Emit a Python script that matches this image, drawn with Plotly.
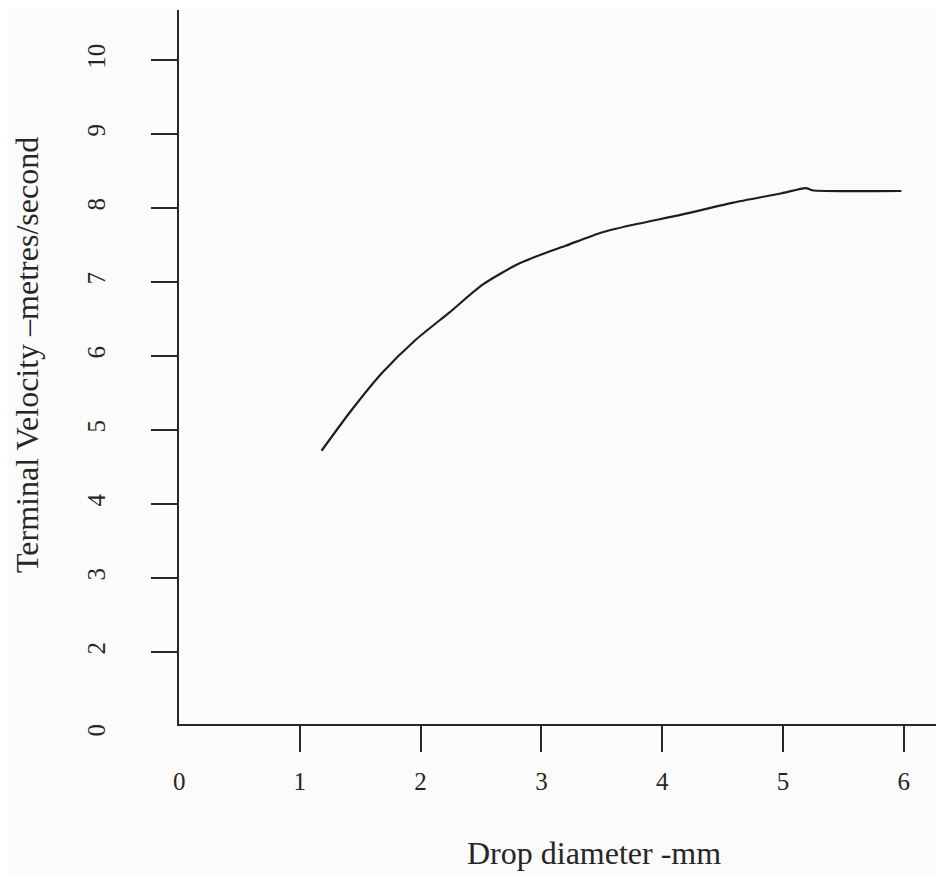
import plotly.graph_objects as go

# Data (drop diameter in mm, terminal velocity in the chart's labelled units)
diameter_mm = [1.18, 1.41, 1.68, 1.96, 2.24, 2.51, 2.79, 3.06, 3.20, 3.48, 3.75, 4.16, 4.58, 4.99, 5.19, 5.24, 5.98]
velocity = [4.72, 5.23, 5.77, 6.22, 6.59, 6.96, 7.23, 7.41, 7.49, 7.66, 7.77, 7.91, 8.07, 8.20, 8.27, 8.24, 8.23]

x_ticks = [1, 2, 3, 4, 5, 6]
y_ticks = [2, 3, 4, 5, 6, 7, 8, 9, 10]
y_ticktext = ["2", "3", "4", "5", "6", "7", "8", "9", "10"]

x_title = "Drop diameter -mm"
y_title = "Terminal Velocity \u2013metres/second"

FONT = "Liberation Serif, Times New Roman, serif"
INK = "#262626"
BG = "#fbfbfb"

fig = go.Figure()
fig.add_trace(go.Scatter(
    x=diameter_mm, y=velocity, mode="lines",
    line=dict(color="#1e1e1e", width=2.2, shape="spline", smoothing=0.6),
    hoverinfo="skip", showlegend=False,
))

fig.update_layout(
    width=936, height=868,
    margin=dict(l=171, r=0, t=2, b=152),
    paper_bgcolor=BG, plot_bgcolor=BG,
    font=dict(family=FONT, size=25, color=INK),
    showlegend=False,
    xaxis=dict(
        range=[0, 6.333], showgrid=False, zeroline=False,
        showline=True, linecolor=INK, linewidth=2,
        ticks="outside", ticklen=26, tickwidth=2, tickcolor=INK,
        tickvals=x_ticks, ticklabelstandoff=8,
        tickfont=dict(family=FONT, size=25, color=INK),
    ),
    yaxis=dict(
        range=[1.027, 10.676], showgrid=False, zeroline=False,
        showline=True, linecolor=INK, linewidth=2,
        ticks="outside", ticklen=26, tickwidth=2, tickcolor=INK,
        tickvals=y_ticks, ticktext=y_ticktext, tickangle=-90,
        ticklabelstandoff=36,
        tickfont=dict(family=FONT, size=25, color=INK),
    ),
    annotations=[
        dict(text="0", x=0, xref="x", y=-0.0812, yref="paper",
             xanchor="center", yanchor="middle", showarrow=False,
             font=dict(family=FONT, size=25, color=INK)),
        dict(text="0", x=-0.1072, xref="paper", y=-0.0077, yref="paper",
             xanchor="center", yanchor="middle", showarrow=False, textangle=-90,
             font=dict(family=FONT, size=25, color=INK)),
        dict(text=x_title, x=0.5425, xref="paper", y=-0.1807, yref="paper",
             xanchor="center", yanchor="middle", showarrow=False,
             font=dict(family=FONT, size=32, color=INK)),
        dict(text=y_title, x=-0.1987, xref="paper", y=0.5168, yref="paper",
             xanchor="center", yanchor="middle", showarrow=False, textangle=-90,
             font=dict(family=FONT, size=32, color=INK)),
    ],
)

fig.write_html("out.html")
